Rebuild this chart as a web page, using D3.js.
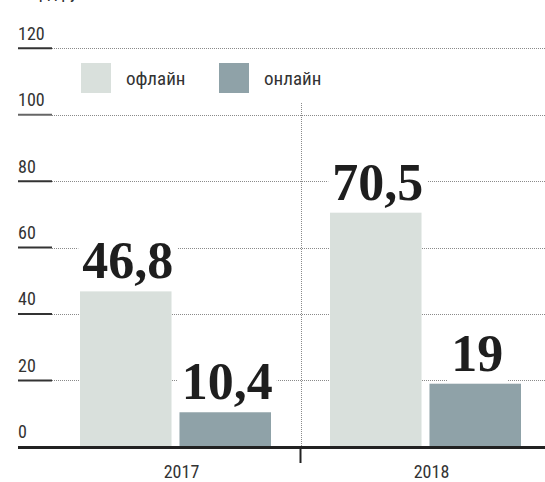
<!DOCTYPE html>
<html>
<head>
<meta charset="utf-8">
<script src="https://cdn.jsdelivr.net/npm/d3@7"></script>
<style>
  body { margin: 0; background: #fff; }
  svg { display: block; }
</style>
</head>
<body>
<svg id="svg"></svg>
<script>
var years = ["2017", "2018"];
var series = ["офлайн", "онлайн"];
var offline = [46.8, 70.5];
var online = [10.4, 19];
var valueLabels = [["46,8", "10,4"], ["70,5", "19"]];
var yTicks = [0, 20, 40, 60, 80, 100, 120];
var unitText = "млрд руб.";

var width = 545, height = 482;
var colors = { "офлайн": "#d9e0dc", "онлайн": "#8fa2a8" };
var sansFont = "'Liberation Sans Narrow', 'Roboto Condensed', 'Liberation Sans', sans-serif";
var serifFont = "'Liberation Serif', 'DejaVu Serif', serif";

var svg = d3.select("#svg").attr("width", width).attr("height", height);

var y = d3.scaleLinear().domain([0, 120]).range([446.8, 48.3]);
var x0 = d3.scaleBand().domain(years).range([50.5, 550.5]).paddingInner(0.236).paddingOuter(0.118);
var x1 = d3.scaleBand().domain(series).range([0, x0.bandwidth()]).paddingInner(0.08);

// unit caption, cut by the top edge as in the original
svg.append("text")
  .attr("x", 18).attr("y", -2)
  .attr("font-family", sansFont).attr("font-size", 18).attr("fill", "#333")
  .text(unitText);

// gridlines
var grid = svg.append("g");
yTicks.filter(function(t) { return t > 0; }).forEach(function(t) {
  grid.append("line")
    .attr("x1", 52).attr("x2", width)
    .attr("y1", Math.round(y(t)) + 0.5).attr("y2", Math.round(y(t)) + 0.5)
    .attr("stroke", "#8a8a8a").attr("stroke-width", 1)
    .attr("stroke-dasharray", "1,1");
  grid.append("line")
    .attr("x1", 18).attr("x2", 52)
    .attr("y1", y(t)).attr("y2", y(t))
    .attr("stroke", t == 100 ? "#666" : "#333").attr("stroke-width", 2);
});
grid.selectAll("text.tick")
  .data(yTicks)
  .enter().append("text")
  .attr("class", "tick")
  .attr("x", 18).attr("y", function(t) { return y(t) - 8.5; })
  .attr("font-family", sansFont).attr("font-size", 18).attr("fill", "#333")
  .text(function(t) { return t; });

// separator between years
var sepX = (x0("2017") + x0.bandwidth() + x0("2018")) / 2;
svg.append("line")
  .attr("x1", Math.round(sepX) + 0.5).attr("x2", Math.round(sepX) + 0.5)
  .attr("y1", 103).attr("y2", y(0))
  .attr("stroke", "#8a8a8a").attr("stroke-dasharray", "1,1");

// legend
var legendX = [81, 219];
series.forEach(function(s, i) {
  svg.append("rect")
    .attr("x", legendX[i]).attr("y", 63).attr("width", 30).attr("height", 30)
    .attr("fill", colors[s]);
  svg.append("text")
    .attr("x", legendX[i] + 45).attr("y", 85)
    .attr("font-family", sansFont).attr("font-size", 19).attr("fill", "#333")
    .text(s);
});

// bars
var groups = svg.selectAll("g.year")
  .data(years)
  .enter().append("g")
  .attr("class", "year")
  .attr("transform", function(d) { return "translate(" + x0(d) + ",0)"; });

groups.each(function(yr, i) {
  var g = d3.select(this);
  var vals = [offline[i], online[i]];
  series.forEach(function(s, j) {
    g.append("rect")
      .attr("x", x1(s)).attr("width", x1.bandwidth())
      .attr("y", y(vals[j])).attr("height", y(0) - y(vals[j]))
      .attr("fill", colors[s]);

    var lbl = g.append("g");
    var bg = lbl.append("rect").attr("fill", "#fff");
    var t = lbl.append("text")
      .attr("x", x1(s) + x1.bandwidth() / 2 + 2)
      .attr("y", y(vals[j]) - 13)
      .attr("text-anchor", "middle")
      .attr("font-family", serifFont).attr("font-weight", "bold")
      .attr("font-size", 52).attr("fill", "#1e1e1e")
      .text(valueLabels[i][j]);
    var bb = t.node().getBBox();
    bg.attr("x", bb.x - 4).attr("y", bb.y).attr("width", bb.width + 8).attr("height", bb.height);
  });
});

// baseline
svg.append("line")
  .attr("x1", 18).attr("x2", width)
  .attr("y1", 447.5).attr("y2", 447.5)
  .attr("stroke", "#222").attr("stroke-width", 3);
svg.append("line")
  .attr("x1", sepX).attr("x2", sepX)
  .attr("y1", 447).attr("y2", 463)
  .attr("stroke", "#222").attr("stroke-width", 2);

// year labels
svg.selectAll("text.year")
  .data(years)
  .enter().append("text")
  .attr("class", "year")
  .attr("x", function(d) { return x0(d) + x0.bandwidth() / 2 + 6; })
  .attr("y", 478)
  .attr("text-anchor", "middle")
  .attr("font-family", sansFont).attr("font-size", 18).attr("fill", "#333")
  .text(function(d) { return d; });
</script>
</body>
</html>
